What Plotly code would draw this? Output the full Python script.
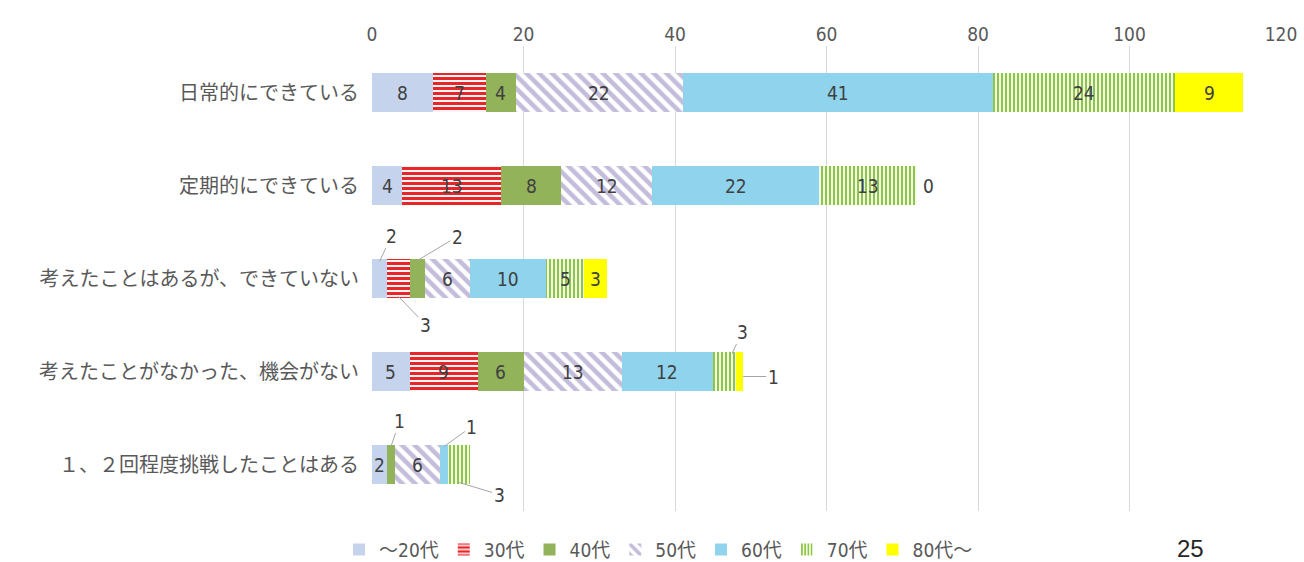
import plotly.graph_objects as go

categories = [
    "日常的にできている",
    "定期的にできている",
    "考えたことはあるが、できていない",
    "考えたことがなかった、機会がない",
    "１、２回程度挑戦したことはある",
]
series_names = ["～20代", "30代", "40代", "50代", "60代", "70代", "80代～"]
values = {
    "～20代": [8, 4, 2, 5, 2],
    "30代": [7, 13, 3, 9, 0],
    "40代": [4, 8, 2, 6, 1],
    "50代": [22, 12, 6, 13, 6],
    "60代": [41, 22, 10, 12, 1],
    "70代": [24, 13, 5, 3, 3],
    "80代～": [9, 0, 3, 1, 0],
}
x_ticks = [0, 20, 40, 60, 80, 100, 120]

styles = {
    "～20代": dict(color="#c5d4ec", shape="", fg=None, size=0, sol=0),
    "30代": dict(color="#e8262a", shape="-", fg="#e8262a", size=5, sol=0.62),
    "40代": dict(color="#93b35a", shape="", fg=None, size=0, sol=0),
    "50代": dict(color="#c9c2dc", shape="\\", fg="#c4bcdb", size=9, sol=0.5),
    "60代": dict(color="#8fd4ec", shape="", fg=None, size=0, sol=0),
    "70代": dict(color="#8dc63f", shape="|", fg="#8dc63f", size=4, sol=0.55),
    "80代～": dict(color="#ffff00", shape="", fg=None, size=0, sol=0),
}

fig = go.Figure()
for name in series_names:
    st = styles[name]
    marker = dict(color=st["color"], line=dict(width=0))
    if st["shape"]:
        marker = dict(
            color="white",
            line=dict(width=0),
            pattern=dict(shape=st["shape"], fgcolor=st["fg"], bgcolor="white",
                         fgopacity=1, size=st["size"], solidity=st["sol"],
                         fillmode="overlay"),
        )
    fig.add_trace(go.Bar(
        name=name, y=categories, x=values[name], orientation="h",
        marker=marker, hoverinfo="x+name",
    ))

label_font = dict(family="Liberation Sans Narrow, DejaVu Sans Condensed, Arial Narrow, sans-serif",
                  size=19, color="#404040")

# leader-line labels: (series, category index) -> (tip fraction within segment, yshift, ax, ay)
leaders = {
    ("～20代", 2): (0.5, 17, 12, -26),
    ("30代", 2): (0.5, -18, 27, 28),
    ("40代", 2): (0.5, 18, 40, -24),
    ("70代", 3): (0.85, 18, 10, -22),
    ("80代～", 3): (1.0, -5, 30, 0),
    ("40代", 4): (0.5, 18, 9, -26),
    ("60代", 4): (0.5, 18, 28, -20),
    ("70代", 4): (0.5, -18, 40, 12),
}

annotations = []
for ci, cat in enumerate(categories):
    cum = 0
    for name in series_names:
        v = values[name][ci]
        key = (name, ci)
        if key in leaders:
            frac, ys, ax, ay = leaders[key]
            annotations.append(dict(
                x=cum + v * frac, y=cat, xref="x", yref="y", text=str(v),
                showarrow=True, arrowhead=0, arrowwidth=1, arrowcolor="#a6a6a6",
                ax=ax, ay=ay, yshift=ys, font=label_font,
            ))
        elif v == 0:
            if name == "80代～" and ci == 1:
                annotations.append(dict(
                    x=cum, y=cat, xref="x", yref="y", text="0", showarrow=False,
                    xanchor="left", xshift=4, font=label_font,
                ))
        else:
            annotations.append(dict(
                x=cum + v / 2, y=cat, xref="x", yref="y", text=str(v),
                showarrow=False, font=label_font,
            ))
        cum += v

annotations.append(dict(
    x=0.9, y=-0.08, xref="paper", yref="paper", text="25", showarrow=False,
    xanchor="center", yanchor="middle",
    font=dict(family="Liberation Sans, Arial, sans-serif", size=24, color="#262626"),
))

fig.update_layout(
    barmode="stack",
    bargap=0.59,
    width=1304, height=562,
    margin=dict(l=372, r=23, t=46, b=51, autoexpand=False),
    paper_bgcolor="white", plot_bgcolor="white",
    xaxis=dict(
        side="top", range=[0, 120], tickvals=x_ticks, showgrid=True,
        gridcolor="#d9d9d9", gridwidth=1, zeroline=False, showline=False,
        tickfont=dict(family="Liberation Sans Narrow, DejaVu Sans Condensed, sans-serif",
                      size=19, color="#595959"),
        ticks="", fixedrange=True, automargin=False,
    ),
    yaxis=dict(
        categoryorder="array", categoryarray=categories, range=[4.5, -0.5],
        autorange=False,
        showgrid=False, showline=False, ticks="", ticklen=0,
        tickfont=dict(family="Noto Sans CJK JP, sans-serif", size=20, color="#595959"),
        ticklabelstandoff=12, fixedrange=True, automargin=False,
    ),
    legend=dict(
        orientation="h", xref="container", yref="container",
        x=0.505, xanchor="center", y=0.022, yanchor="middle",
        font=dict(family="Liberation Sans Narrow, DejaVu Sans Condensed, Noto Sans CJK JP, sans-serif",
                  size=19, color="#595959"),
        itemwidth=30, tracegroupgap=0, traceorder="normal",
    ),
    annotations=annotations,
    showlegend=True,
)

fig.write_html("out.html", config={"displayModeBar": False},
               post_script="document.body.style.margin='0';document.body.style.overflow='hidden';")
